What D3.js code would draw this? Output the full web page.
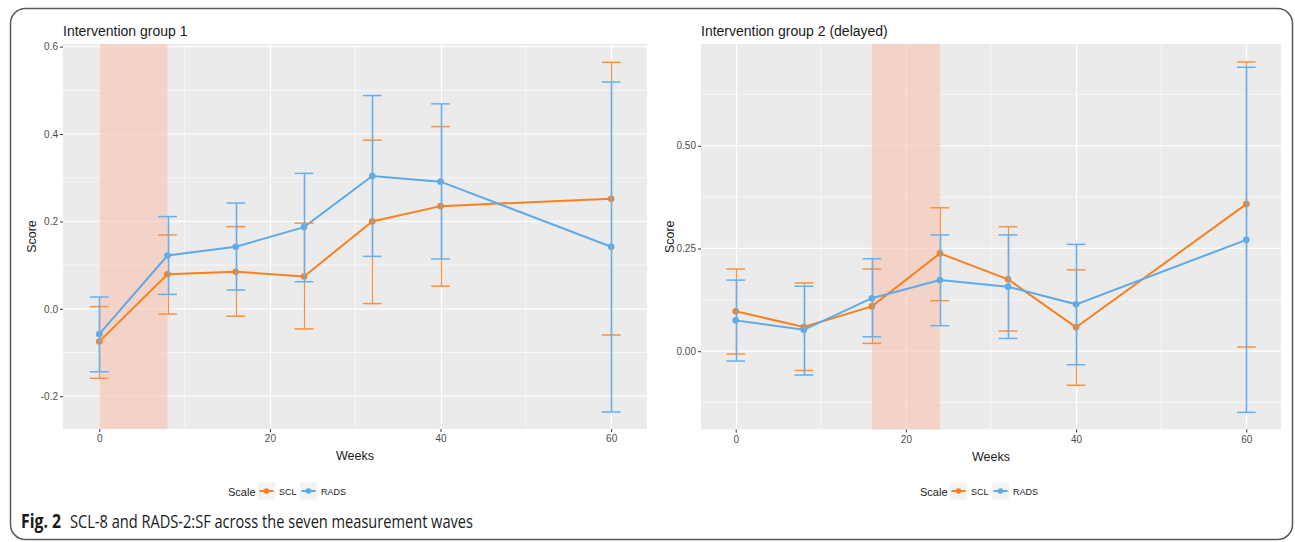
<!DOCTYPE html>
<html>
<head>
<meta charset="utf-8">
<script src="https://cdn.jsdelivr.net/npm/d3@7"></script>
<style>
  body { margin: 0; background: #fff; }
  svg { display: block; }
</style>
</head>
<body>
<svg id="chart" width="1295" height="542"></svg>
<script>
// data
const weeks = [0, 8, 16, 24, 32, 40, 60];
const scales = ['SCL', 'RADS'];

// group 1
const g1SclMean = [-0.075, 0.079, 0.085, 0.074, 0.200, 0.235, 0.252];
const g1SclLow = [-0.159, -0.012, -0.017, -0.046, 0.012, 0.052, -0.060];
const g1SclHigh = [0.005, 0.169, 0.188, 0.196, 0.386, 0.417, 0.564];
const g1RadsMean = [-0.058, 0.122, 0.142, 0.187, 0.304, 0.291, 0.142];
const g1RadsLow = [-0.144, 0.033, 0.043, 0.062, 0.120, 0.114, -0.236];
const g1RadsHigh = [0.027, 0.211, 0.242, 0.310, 0.488, 0.469, 0.519];

// group 2 (delayed)
const g2SclMean = [0.097, 0.059, 0.109, 0.238, 0.175, 0.058, 0.358];
const g2SclLow = [-0.007, -0.047, 0.019, 0.123, 0.049, -0.083, 0.010];
const g2SclHigh = [0.200, 0.166, 0.200, 0.349, 0.303, 0.198, 0.704];
const g2RadsMean = [0.075, 0.052, 0.129, 0.173, 0.157, 0.114, 0.271];
const g2RadsLow = [-0.024, -0.058, 0.035, 0.062, 0.031, -0.033, -0.149];
const g2RadsHigh = [0.173, 0.158, 0.225, 0.283, 0.283, 0.260, 0.691];

const xTicks = [0, 20, 40, 60];
const xMinor = [10, 30, 50];
const g1YTicks = [-0.2, 0.0, 0.2, 0.4, 0.6];
const g1YMinor = [-0.1, 0.1, 0.3, 0.5];
const g2YTicks = [0.0, 0.25, 0.5];
const g2YMinor = [-0.125, 0.125, 0.375, 0.625];
const g1Shade = [0, 8];
const g2Shade = [16, 24];

const colors = { SCL: '#f7801f', RADS: '#5eaae8' };
const barColors = { SCL: '#f8923e', RADS: '#64b0f0' };
const barWidths = { SCL: 1.2, RADS: 1.6 };
const font = '"Liberation Sans", Arial, sans-serif';

var svg = d3.select('#chart');

// rounded frame round the figure
svg.append('rect')
    .attr('x', 10.5).attr('y', 8.5)
    .attr('width', 1282).attr('height', 531)
    .attr('rx', 15).attr('ry', 15)
    .attr('fill', 'none')
    .attr('stroke', '#5a5a5a')
    .attr('stroke-width', 1.5);

function fmtTick(f) {
    return function(d) { return d3.format(f)(d).replace('\u2212', '-'); };
}

function drawPanel(p) {
    var x = d3.scaleLinear().domain(p.xDomain).range([p.left, p.right]);
    var y = d3.scaleLinear().domain(p.yDomain).range([p.bottom, p.top]);
    var xs = d => Math.round(x(d)) + 0.5;
    var g = svg.append('g');

    // panel background
    g.append('rect')
        .attr('x', p.left).attr('y', p.top)
        .attr('width', p.right - p.left).attr('height', p.bottom - p.top)
        .attr('fill', '#ebebeb');

    // minor grid
    g.selectAll('.ymin').data(p.yMinor).enter().append('line')
        .attr('x1', p.left).attr('x2', p.right)
        .attr('y1', d => y(d)).attr('y2', d => y(d))
        .attr('stroke', '#fff').attr('stroke-width', 0.6);
    g.selectAll('.xmin').data(xMinor).enter().append('line')
        .attr('y1', p.top).attr('y2', p.bottom)
        .attr('x1', d => x(d)).attr('x2', d => x(d))
        .attr('stroke', '#fff').attr('stroke-width', 0.6);
    // major grid
    g.selectAll('.ymaj').data(p.yTicks).enter().append('line')
        .attr('x1', p.left).attr('x2', p.right)
        .attr('y1', d => y(d)).attr('y2', d => y(d))
        .attr('stroke', '#fff').attr('stroke-width', 1.2);
    g.selectAll('.xmaj').data(xTicks).enter().append('line')
        .attr('y1', p.top).attr('y2', p.bottom)
        .attr('x1', d => xs(d)).attr('x2', d => xs(d))
        .attr('stroke', '#fff').attr('stroke-width', 1.2);

    // intervention period
    g.append('rect')
        .attr('x', x(p.shade[0])).attr('y', p.top)
        .attr('width', x(p.shade[1]) - x(p.shade[0]))
        .attr('height', p.bottom - p.top)
        .attr('fill', '#f7c6b4').attr('opacity', 0.65);

    // axes
    var yAxis = g.append('g')
        .attr('transform', 'translate(' + p.left + ',0)')
        .call(d3.axisLeft(y).tickValues(p.yTicks).tickSize(3).tickPadding(2).tickFormat(fmtTick(p.fmt)));
    var xAxis = g.append('g')
        .attr('transform', 'translate(0,' + p.bottom + ')')
        .call(d3.axisBottom(x).tickValues(xTicks).tickSize(3).tickPadding(3).tickFormat(d3.format('d')));
    [yAxis, xAxis].forEach(function(a) {
        a.select('.domain').remove();
        a.selectAll('.tick line').attr('stroke', '#333').attr('stroke-width', 1);
        a.selectAll('.tick text').attr('fill', '#4d4d4d')
            .style('font-family', font).style('font-size', '10px');
    });

    var line = d3.line().x(d => x(d.w)).y(d => y(d.m));
    var capW = 1.1;

    var series = p.series.map(function(s) {
        return { name: s.name, pts: weeks.map((w, i) => ({ w: w, m: s.mean[i], lo: s.low[i], hi: s.high[i] })) };
    });

    series.forEach(function(s) {
        var c = colors[s.name];
        g.append('path').datum(s.pts)
            .attr('d', line)
            .attr('fill', 'none')
            .attr('stroke', c)
            .attr('stroke-width', 2);
        g.selectAll(null).data(s.pts).enter().append('circle')
            .attr('cx', d => x(d.w)).attr('cy', d => y(d.m))
            .attr('r', 3.3).attr('fill', c);
    });

    // error bars on top
    series.forEach(function(s) {
        var eb = g.append('g')
            .attr('stroke', barColors[s.name]).attr('stroke-width', barWidths[s.name]);
        eb.selectAll(null).data(s.pts).enter().append('line')
            .attr('x1', d => xs(d.w)).attr('x2', d => xs(d.w))
            .attr('y1', d => y(d.lo)).attr('y2', d => y(d.hi));
        ['lo', 'hi'].forEach(function(k) {
            eb.selectAll(null).data(s.pts).enter().append('line')
                .attr('x1', d => x(d.w - capW)).attr('x2', d => x(d.w + capW))
                .attr('y1', d => y(d[k])).attr('y2', d => y(d[k]))
                .attr('stroke-width', 1.5);
        });
    });

    // titles
    g.append('text')
        .attr('x', p.left).attr('y', 36)
        .style('font-family', font).style('font-size', '14px')
        .attr('fill', '#1a1a1a')
        .text(p.title);
    g.append('text')
        .attr('transform', 'translate(' + (p.left - 27) + ',' + ((p.top + p.bottom) / 2) + ') rotate(-90)')
        .attr('text-anchor', 'middle')
        .style('font-family', font).style('font-size', '12.5px')
        .attr('fill', '#1a1a1a')
        .text('Score');
    g.append('text')
        .attr('x', (p.left + p.right) / 2).attr('y', p.bottom + 31)
        .attr('text-anchor', 'middle')
        .style('font-family', font).style('font-size', '12.5px')
        .attr('fill', '#1a1a1a')
        .text('Weeks');

    // legend
    var lg = g.append('g').attr('transform', 'translate(' + p.legendX + ',491)');
    lg.append('text')
        .attr('x', 0).attr('y', 4.5)
        .style('font-family', font).style('font-size', '11px')
        .attr('fill', '#1a1a1a')
        .text('Scale');
    var offs = [30, 72];
    scales.forEach(function(name, i) {
        var k = lg.append('g').attr('transform', 'translate(' + offs[i] + ',0)');
        k.append('rect').attr('x', 0).attr('y', -8.5).attr('width', 17).attr('height', 17).attr('fill', '#f2f2f2');
        k.append('line').attr('x1', 1.5).attr('x2', 15.5).attr('y1', 0).attr('y2', 0)
            .attr('stroke', colors[name]).attr('stroke-width', 2);
        k.append('circle').attr('cx', 8.5).attr('cy', 0).attr('r', 2.8).attr('fill', colors[name]);
        k.append('text')
            .attr('x', 21).attr('y', 3.5)
            .style('font-family', font).style('font-size', '9px')
            .attr('fill', '#1a1a1a')
            .text(name);
    });
}

drawPanel({
    left: 63, right: 647, top: 44, bottom: 429,
    xDomain: [-4.25, 64.2], yDomain: [-0.275, 0.606],
    yTicks: g1YTicks, yMinor: g1YMinor, fmt: '.1f', shade: g1Shade,
    title: 'Intervention group 1', legendX: 228,
    series: [
        { name: 'SCL', mean: g1SclMean, low: g1SclLow, high: g1SclHigh },
        { name: 'RADS', mean: g1RadsMean, low: g1RadsLow, high: g1RadsHigh }
    ]
});

drawPanel({
    left: 701, right: 1281, top: 44, bottom: 429.5,
    xDomain: [-4.08, 64.08], yDomain: [-0.1906, 0.7476],
    yTicks: g2YTicks, yMinor: g2YMinor, fmt: '.2f', shade: g2Shade,
    title: 'Intervention group 2 (delayed)', legendX: 920,
    series: [
        { name: 'SCL', mean: g2SclMean, low: g2SclLow, high: g2SclHigh },
        { name: 'RADS', mean: g2RadsMean, low: g2RadsLow, high: g2RadsHigh }
    ]
});

// caption
var capFont = '"Open Sans", "Noto Sans", sans-serif';
svg.append('text')
    .attr('x', 21).attr('y', 528)
    .attr('textLength', 40).attr('lengthAdjust', 'spacingAndGlyphs')
    .style('font-family', capFont).style('font-size', '19px').style('font-weight', 'bold')
    .attr('fill', '#1a1a1a')
    .text('Fig. 2');
svg.append('text')
    .attr('x', 70).attr('y', 528)
    .attr('textLength', 403).attr('lengthAdjust', 'spacingAndGlyphs')
    .style('font-family', capFont).style('font-size', '19px')
    .attr('fill', '#1a1a1a')
    .text('SCL-8 and RADS-2:SF across the seven measurement waves');
</script>
</body>
</html>
